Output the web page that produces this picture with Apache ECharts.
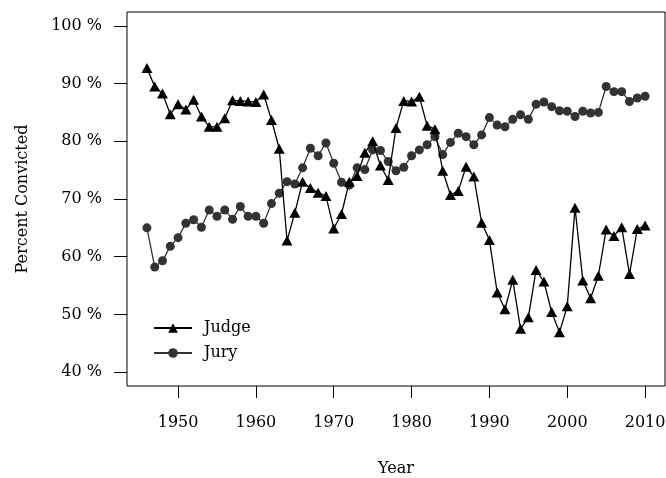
<!DOCTYPE html>
<html>
<head>
<meta charset="utf-8">
<script src="https://cdn.jsdelivr.net/npm/echarts@6/dist/echarts.min.js"></script>
<style>
  html, body { margin: 0; padding: 0; background: #fff; }
  #chart { width: 666px; height: 478px; }
</style>
</head>
<body>
<div id="chart"></div>
<script>
// years 1946 - 2010
const years = [];
for (let y = 1946; y <= 2010; y++) years.push(y);

// percent convicted, bench trials
const judge = [
  92.7, 89.5, 88.3, 84.7, 86.4, 85.5, 87.2, 84.3, 82.5, 82.5,
  84.0, 87.1, 87.0, 86.9, 86.8, 88.1, 83.7, 78.7, 62.8, 67.6,
  73.0, 71.9, 71.1, 70.5, 64.9, 67.4, 73.0, 74.0, 78.0, 80.0,
  75.8, 73.3, 82.3, 87.0, 86.9, 87.7, 82.7, 82.1, 74.9, 70.7,
  71.4, 75.6, 73.9, 65.9, 62.9, 53.8, 50.9, 56.0, 47.5, 49.5,
  57.7, 55.7, 50.4, 46.9, 51.4, 68.5, 55.9, 52.8, 56.7, 64.7,
  63.6, 65.1, 57.0, 64.8, 65.4
];

// percent convicted, jury trials
const jury = [
  65.0, 58.2, 59.3, 61.8, 63.3, 65.8, 66.4, 65.1, 68.1, 67.0,
  68.1, 66.5, 68.7, 67.0, 67.0, 65.8, 69.2, 71.0, 73.0, 72.6,
  75.4, 78.8, 77.5, 79.7, 76.2, 72.9, 72.4, 75.4, 75.1, 78.5,
  78.4, 76.5, 74.9, 75.5, 77.5, 78.5, 79.4, 80.8, 77.7, 79.8,
  81.4, 80.8, 79.4, 81.1, 84.1, 82.8, 82.5, 83.8, 84.6, 83.8,
  86.4, 86.8, 86.0, 85.3, 85.2, 84.3, 85.2, 84.9, 85.0, 89.5,
  88.6, 88.6, 86.9, 87.5, 87.8
];

const xTicks = [1950, 1960, 1970, 1980, 1990, 2000, 2010];
const yTicks = [40, 50, 60, 70, 80, 90, 100];

const font = "DejaVu Serif";

const myChart = echarts.init(document.getElementById("chart"));

const option = {
  animation: false,
  backgroundColor: "#fff",
  textStyle: { fontFamily: font },
  grid: {
    left: 127, right: 1, top: 12, bottom: 92,
    outerBoundsMode: "none",
    show: true, borderColor: "#000", borderWidth: 1
  },
  legend: {
    left: 148, top: 315,
    orient: "vertical",
    itemWidth: 38, itemHeight: 12, itemGap: 9,
    textStyle: { fontFamily: font, fontSize: 16, color: "#000", padding: [0, 0, 0, 7] },
    data: ["Judge", "Jury"]
  },
  xAxis: {
    type: "value",
    min: 1943.44, max: 2012.56,
    name: "Year", nameLocation: "middle", nameGap: 75,
    nameTextStyle: { fontFamily: font, fontSize: 16, color: "#000" },
    axisLine: { show: false },
    splitLine: { show: false },
    axisTick: { show: true, inside: false, length: 12, customValues: xTicks, lineStyle: { color: "#000" } },
    axisLabel: { customValues: xTicks, margin: 29, fontFamily: font, fontSize: 16, color: "#000",
      formatter: (v) => String(v) }
  },
  yAxis: {
    type: "value",
    min: 37.6, max: 102.4,
    name: "Percent Convicted", nameLocation: "middle", nameGap: 96,
    nameTextStyle: { fontFamily: font, fontSize: 16, color: "#000" },
    axisLine: { show: false },
    splitLine: { show: false },
    axisTick: { show: true, inside: false, length: 13, customValues: yTicks, lineStyle: { color: "#000" } },
    axisLabel: { customValues: yTicks, margin: 25, fontFamily: font, fontSize: 16, color: "#000",
      formatter: (v) => v + " %" }
  },
  series: [
    {
      name: "Judge", type: "line",
      data: years.map((y, i) => [y, judge[i]]),
      symbol: "triangle", symbolSize: [11, 10],
      lineStyle: { color: "#000", width: 1.3 },
      itemStyle: { color: "#000" },
      z: 3
    },
    {
      name: "Jury", type: "line",
      data: years.map((y, i) => [y, jury[i]]),
      symbol: "circle", symbolSize: 9,
      lineStyle: { color: "#333", width: 1.3 },
      itemStyle: { color: "#333" },
      z: 2
    }
  ]
};

myChart.setOption(option);
</script>
</body>
</html>
